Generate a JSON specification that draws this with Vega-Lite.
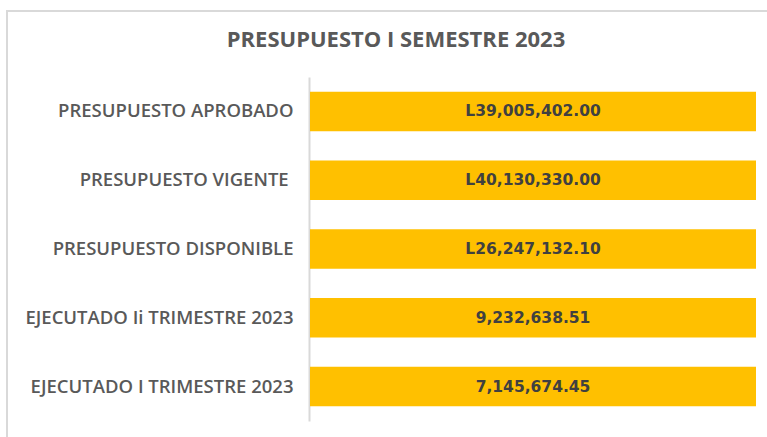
{
  "$schema": "https://vega.github.io/schema/vega-lite/v6.json",
  "width": 778,
  "height": 440,
  "autosize": {"type": "none"},
  "padding": {"left": 7, "top": 11, "right": 0, "bottom": 0},
  "background": "white",
  "title": {
    "text": "PRESUPUESTO I SEMESTRE 2023",
    "font": "Open Sans",
    "fontSize": 22,
    "fontWeight": 700,
    "color": "#595959",
    "offset": -51,
    "baseline": "middle",
    "anchor": "middle"
  },
  "data": {
    "values": [
      {"concepto": "PRESUPUESTO APROBADO", "monto": "L39,005,402.00", "pct": 100},
      {"concepto": "PRESUPUESTO VIGENTE\u00a0\u200b", "monto": "L40,130,330.00", "pct": 100},
      {"concepto": "PRESUPUESTO DISPONIBLE", "monto": "L26,247,132.10", "pct": 100},
      {"concepto": "EJECUTADO Ii TRIMESTRE 2023", "monto": "9,232,638.51", "pct": 100},
      {"concepto": "EJECUTADO I TRIMESTRE 2023", "monto": "7,145,674.45", "pct": 100}
    ]
  },
  "encoding": {
    "y": {
      "field": "concepto",
      "type": "nominal",
      "sort": null,
      "scale": {"range": [66, 410], "paddingInner": 0.426, "paddingOuter": 0.213},
      "axis": {
        "title": null,
        "offset": -302,
        "ticks": false,
        "domainColor": "#d9d9d9",
        "domainWidth": 2,
        "labelFont": "Open Sans",
        "labelFontSize": 18.5,
        "labelFontWeight": 600,
        "labelColor": "#595959",
        "labelPadding": 16,
        "labelLimit": 0
      }
    }
  },
  "layer": [
    {
      "mark": {"type": "bar", "color": "#ffc000"},
      "encoding": {
        "x": {
          "field": "pct",
          "type": "quantitative",
          "scale": {"domain": [0, 100], "range": [303, 749]},
          "axis": null
        }
      }
    },
    {
      "mark": {"type": "text", "font": "DejaVu Sans", "fontSize": 15.5, "fontWeight": "bold", "color": "#404040"},
      "encoding": {
        "x": {"datum": 50},
        "text": {"field": "monto"}
      }
    }
  ],
  "config": {"view": {"stroke": "#d9d9d9", "strokeWidth": 2}}
}
